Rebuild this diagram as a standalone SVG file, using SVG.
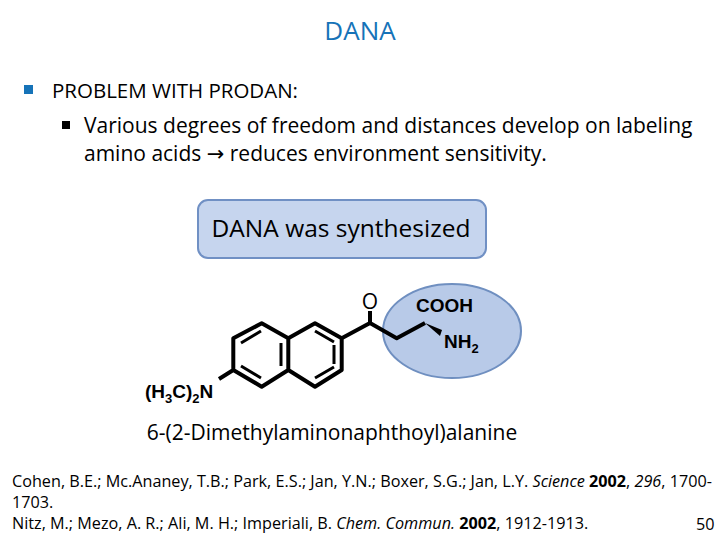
<svg xmlns="http://www.w3.org/2000/svg" width="720" height="540" viewBox="0 0 720 540">
<style>
text{font-family:"Open Sans","Noto Sans","DejaVu Sans",sans-serif;fill:#000}
.c{font-family:"Liberation Sans",Arial,sans-serif;font-weight:bold;font-size:19px}
.ref{font-family:"Open Sans","Noto Sans",sans-serif;font-size:16.2px}
.b{stroke:#000;stroke-width:4;fill:none;stroke-linejoin:round}
.i{stroke:#000;stroke-width:3}
</style>
<rect width="720" height="540" fill="#fff"/>
<text x="360" y="40" text-anchor="middle" font-size="26" style="fill:#1673b8">DANA</text>
<rect x="24" y="85" width="9" height="9" fill="#1673b8"/>
<text x="52" y="98" font-size="20.5">PROBLEM WITH PRODAN:</text>
<rect x="62" y="121" width="8" height="8" fill="#000"/>
<text x="84" y="133" font-size="21">Various degrees of freedom and distances develop on labeling</text>
<text x="84" y="161" font-size="21">amino acids → reduces environment sensitivity.</text>
<g id="box">
<rect x="198" y="200" width="288" height="58" rx="10" fill="#c6d5ee" stroke="#7090c4" stroke-width="2"/>
<text x="341" y="237" text-anchor="middle" font-size="24.5">DANA was synthesized</text>
</g>
<g id="molecule">
<ellipse cx="452" cy="331" rx="69" ry="47" fill="#b8cae8" stroke="#6f8fc0" stroke-width="2"/>
<path class="b" d="M261.7,323.3 L233.3,338.3 L233.3,370 L261.7,386.7 L288.3,370 L288.3,338.3 Z M288.3,338.3 L315,323.3 L341.7,338.3 L341.7,370 L315,386.7 L288.3,370 M233.3,370 L219,379 M341.7,338.3 L370,323 L396.7,338.3 L425,323 M370,323 L370,311"/>
<path class="i" d="M241,343 L261,331 M241,366 L261,378 M281,343 L281,366 M315,331 L334,342 M334,345 L334,364 M315,378 L334,367"/>
<polygon points="425,323 442,330 440,336" fill="#000"/>
<text x="370" y="309" text-anchor="middle" font-size="21" font-family="Liberation Sans, Arial, sans-serif">O</text>
<text class="c" x="416" y="312">COOH</text>
<text class="c" x="444" y="348">NH<tspan font-size="13" dy="5">2</tspan></text>
<text class="c" x="145" y="398">(H<tspan font-size="13" dy="5">3</tspan><tspan dy="-5">C)</tspan><tspan font-size="13" dy="5">2</tspan><tspan dy="-5">N</tspan></text>
</g>
<text x="332" y="440" text-anchor="middle" font-size="21">6-(2-Dimethylaminonaphthoyl)alanine</text>
<text class="ref" x="12" y="487">Cohen, B.E.; Mc.Ananey, T.B.; Park, E.S.; Jan, Y.N.; Boxer, S.G.; Jan, L.Y. <tspan font-style="italic">Science</tspan> <tspan font-weight="bold">2002</tspan>, <tspan font-style="italic">296</tspan>, 1700-</text>
<text class="ref" x="12" y="508">1703.</text>
<text class="ref" x="12" y="529">Nitz, M.; Mezo, A. R.; Ali, M. H.; Imperiali, B. <tspan font-style="italic">Chem. Commun.</tspan> <tspan font-weight="bold">2002</tspan>, 1912-1913.</text>
<text class="ref" x="696" y="530" font-size="13">50</text>
</svg>
